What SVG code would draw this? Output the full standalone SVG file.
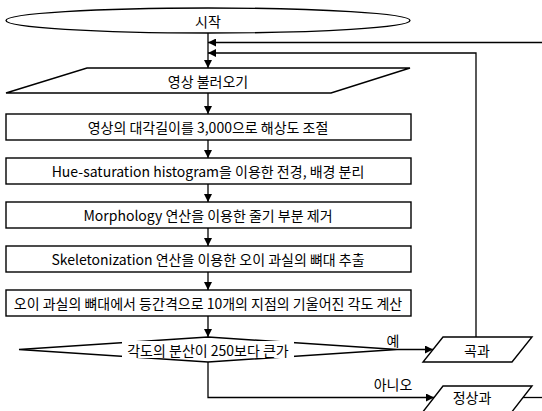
<svg xmlns="http://www.w3.org/2000/svg" width="542" height="411" viewBox="0 0 542 411">
<defs>
<marker id="ah" viewBox="0 0 10 10" refX="10" refY="5" markerWidth="9" markerHeight="8" markerUnits="userSpaceOnUse" orient="auto">
<path d="M0,0 L10,5 L0,10 Z" fill="#000"/>
</marker>
</defs>
<style>
.s{fill:#fff;stroke:#000;stroke-width:1.4}
.t{font-family:"Noto Sans CJK KR","Noto Sans",sans-serif;font-size:14px;fill:#000;text-anchor:middle;dominant-baseline:central}
.c{fill:none;stroke:#000;stroke-width:1.3}
</style>
<rect width="542" height="411" fill="#fff"/>
<g id="connectors">
<line class="c" x1="208" y1="33" x2="208" y2="68" marker-end="url(#ah)"/>
<polyline class="c" points="542,42.5 208,42.5" marker-end="url(#ah)"/>
<polyline class="c" points="476,337 476,53 208,53" marker-end="url(#ah)"/>
<line class="c" x1="208" y1="93" x2="208" y2="114" marker-end="url(#ah)"/>
<line class="c" x1="208" y1="140" x2="208" y2="158" marker-end="url(#ah)"/>
<line class="c" x1="208" y1="184" x2="208" y2="202" marker-end="url(#ah)"/>
<line class="c" x1="208" y1="228" x2="208" y2="246" marker-end="url(#ah)"/>
<line class="c" x1="208" y1="272" x2="208" y2="290" marker-end="url(#ah)"/>
<line class="c" x1="208" y1="316" x2="208" y2="337" marker-end="url(#ah)"/>
<line class="c" x1="397" y1="349.5" x2="433" y2="349.5" marker-end="url(#ah)"/>
<polyline class="c" points="208,362 208,397.5 434,397.5" marker-end="url(#ah)"/>
<line class="c" x1="522" y1="397.5" x2="542" y2="397.5"/>
<text class="t" x="393" y="340">예</text>
<text class="t" x="393" y="384">아니오</text>
</g>
<g id="start">
<ellipse class="s" cx="208" cy="20.5" rx="202" ry="12.5"/>
<text class="t" x="208" y="21">시작</text>
</g>
<g id="load">
<polygon class="s" points="87,68 410,68 331,93 6,93"/>
<text class="t" x="208" y="81">영상 불러오기</text>
</g>
<g id="resize">
<rect class="s" x="6" y="114" width="405" height="26"/>
<text class="t" x="208" y="127">영상의 대각길이를 3,000으로 해상도 조절</text>
</g>
<g id="segment">
<rect class="s" x="6" y="158" width="405" height="26"/>
<text class="t" x="208" y="171">Hue-saturation histogram을 이용한 전경, 배경 분리</text>
</g>
<g id="morph">
<rect class="s" x="6" y="202" width="405" height="26"/>
<text class="t" x="208" y="215">Morphology 연산을 이용한 줄기 부분 제거</text>
</g>
<g id="skeleton">
<rect class="s" x="6" y="246" width="405" height="26"/>
<text class="t" x="208" y="259">Skeletonization 연산을 이용한 오이 과실의 뼈대 추출</text>
</g>
<g id="angle">
<rect class="s" x="6" y="290" width="405" height="26"/>
<text class="t" x="208" y="303">오이 과실의 뼈대에서 등간격으로 10개의 지점의 기울어진 각도 계산</text>
</g>
<g id="decision">
<polygon class="s" points="208,337 397,349.5 208,362 19,349.5"/>
<rect x="122" y="341" width="172" height="17" fill="#fff"/>
<text class="t" x="208" y="350">각도의 분산이 250보다 큰가</text>
</g>
<g id="curved">
<polygon class="s" points="443,337 532,337 512,362 423,362"/>
<text class="t" x="477" y="350">곡과</text>
</g>
<g id="normal">
<polygon class="s" points="443,386 532,386 511,413 422,413"/>
<text class="t" x="472" y="397">정상과</text>
</g>
</svg>
